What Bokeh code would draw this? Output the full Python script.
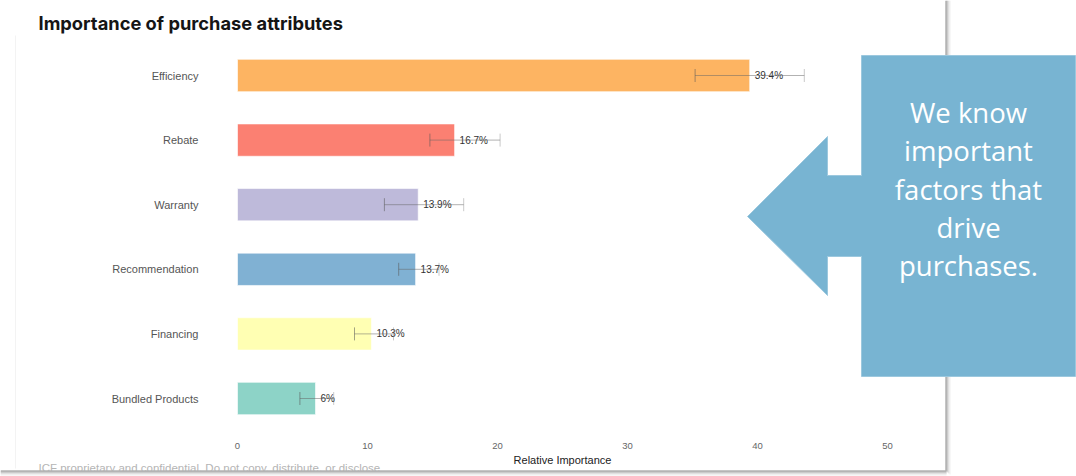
from bokeh.plotting import figure
from bokeh.models import Range1d, FixedTicker, Whisker, TeeHead, ColumnDataSource, LinearAxis
from bokeh.core.properties import value
from bokeh.embed import file_html
from bokeh.resources import INLINE

# ---- data ----
categories = ["Efficiency", "Rebate", "Warranty", "Recommendation", "Financing", "Bundled Products"]
importance = [39.4, 16.7, 13.9, 13.7, 10.3, 6.0]
err_low = [35.2, 14.8, 11.3, 12.4, 9.0, 4.8]
err_high = [43.6, 20.2, 17.4, 15.5, 12.0, 7.4]
bar_colors = ["#fdb462", "#fb8072", "#bebada", "#80b1d3", "#ffffb3", "#8dd3c7"]
x_ticks = [0, 10, 20, 30, 40, 50]
title_text = "Importance of purchase attributes"
x_title = "Relative Importance"
footer_text = "ICF proprietary and confidential. Do not copy, distribute, or disclose"
callout_lines = ["We know", "important", "factors that", "drive", "purchases."]

# ---- layout constants (pixels) ----
W, H = 1076, 476
X0_PX = 237.0          # pixel of value 0
PX_PER_UNIT = 13.0     # pixels per unit of importance
ROW_PX = 64.6          # pixels between rows
TOP_ROW_PX = 75.0      # centre of the top row, from top

n = len(categories)
ypos = [n - 1 - i for i in range(n)]
y_end = (n - 1) + TOP_ROW_PX / ROW_PX
y_start = y_end - H / ROW_PX
x_start = -X0_PX / PX_PER_UNIT
x_end = (W - X0_PX) / PX_PER_UNIT

p = figure(width=W, height=H, title=None, toolbar_location=None, output_backend="svg",
           x_range=Range1d(x_start, x_end), y_range=Range1d(y_start, y_end),
           min_border=0, min_border_left=0, min_border_right=0, min_border_top=0, min_border_bottom=0,
           x_axis_location=None, y_axis_location=None)
p.outline_line_color = None
p.background_fill_color = "white"
p.border_fill_color = "white"
p.xgrid.visible = False
p.ygrid.visible = False
p.extra_x_ranges = {"px": Range1d(0, W)}
p.extra_y_ranges = {"py": Range1d(H, 0)}

PX = dict(x_range_name="px", y_range_name="py")

# ---- card shadows / footer ----
p.text(x=[38], y=[461], text=[footer_text], text_font=value("Liberation Sans"),
       text_font_size="11.5px", text_color="#b5b5b5", text_baseline="top", **PX)
p.quad(left=[0], right=[W], top=[470], bottom=[H], fill_color="white", line_color=None, **PX)
for off, col in zip(range(5), ["#8a8a8a", "#a5a5a5", "#c4c4c4", "#dedede", "#f0f0f0"]):
    p.segment(x0=[0], y0=[470 + off + 0.5], x1=[946], y1=[470 + off + 0.5], line_color=col, line_width=1, **PX)
    p.segment(x0=[945 + off + 0.5], y0=[0], x1=[945 + off + 0.5], y1=[470 + off], line_color=col, line_width=1, **PX)
p.segment(x0=[15], y0=[35], x1=[15], y1=[468], line_color="#f3f3f3", line_width=1, **PX)

# ---- title ----
p.text(x=[38], y=[22], text=[title_text], text_font=value("Inter"), text_font_style="bold",
       text_font_size="18.3px", text_color="#151515", text_baseline="middle", **PX)

# ---- bars ----
src = ColumnDataSource(dict(y=ypos, v=importance, lo=err_low, hi=err_high, c=bar_colors,
                            lab=[f"{v:g}%" for v in importance]))
p.hbar(y="y", left=0, right="v", height=0.5, fill_color="c", line_color="white",
       line_alpha=0.6, line_width=1, source=src)

wh = Whisker(base="y", lower="lo", upper="hi", dimension="width", source=src, level="overlay",
             line_color="#666666", line_alpha=0.5, line_width=1,
             upper_head=TeeHead(size=13, line_color="#777777", line_alpha=0.4, line_width=1),
             lower_head=TeeHead(size=13, line_color="#555555", line_alpha=0.55, line_width=1))
p.add_layout(wh)

p.text(x="v", y="y", text="lab", source=src, x_offset=5, text_baseline="middle",
       text_align="left", text_font=value("Liberation Sans"), text_font_size="10px",
       text_color="#333333", level="overlay")

# ---- axes ----
xaxis = LinearAxis(fixed_location=y_start + (H - 431) / ROW_PX, bounds=(0, 50),
                   ticker=FixedTicker(ticks=x_ticks), axis_label=x_title)
xaxis.axis_line_color = None
xaxis.major_tick_line_color = None
xaxis.minor_tick_line_color = None
xaxis.major_label_text_font = "Liberation Sans"
xaxis.major_label_text_font_size = "9.5px"
xaxis.major_label_text_color = "#666666"
xaxis.major_label_standoff = 5
xaxis.axis_label_text_font = "Liberation Sans"
xaxis.axis_label_text_font_style = "normal"
xaxis.axis_label_text_font_size = "11px"
xaxis.axis_label_text_color = "#222222"
xaxis.axis_label_standoff = 2
p.add_layout(xaxis, "below")

yaxis = LinearAxis(fixed_location=(209 - X0_PX) / PX_PER_UNIT, bounds=(0, n - 1),
                   ticker=FixedTicker(ticks=ypos),
                   major_label_overrides={yy: c for yy, c in zip(ypos, categories)})
yaxis.axis_line_color = None
yaxis.major_tick_line_color = None
yaxis.minor_tick_line_color = None
yaxis.major_label_text_font = "Liberation Sans"
yaxis.major_label_text_font_size = "11px"
yaxis.major_label_text_color = "#555555"
yaxis.major_label_standoff = 5
p.add_layout(yaxis, "left")

# ---- callout ----
arrow_x = [747, 827, 827, 861, 861, 1075, 1075, 861, 861, 827, 827]
arrow_y = [216, 136, 175, 175, 55, 55, 376, 376, 256, 256, 295]
p.patch(x=arrow_x, y=arrow_y, fill_color="#78b4d2", line_color="#9cc8de", line_width=1, **PX)
p.text(x=[968] * len(callout_lines), y=[112 + 38.3 * i for i in range(len(callout_lines))],
       text=callout_lines, text_align="center", text_baseline="middle",
       text_font=value("Open Sans"), text_font_size="27.5px", text_color="white", **PX)

open("out.html", "w").write(file_html(p, INLINE))
